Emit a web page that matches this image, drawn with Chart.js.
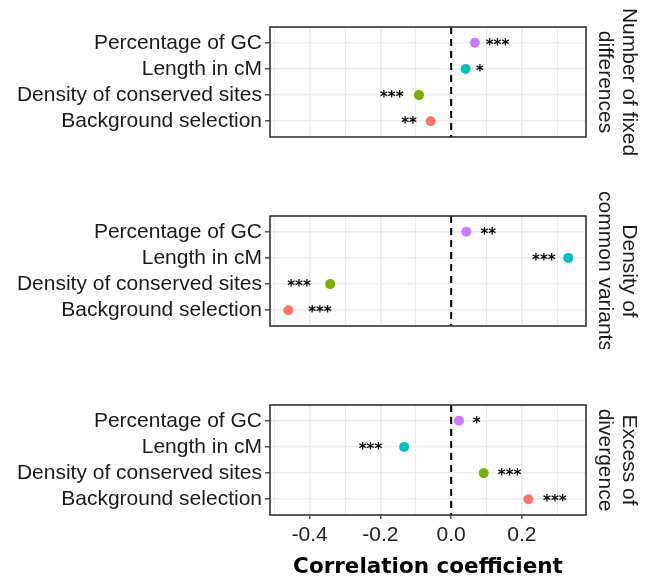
<!DOCTYPE html>
<html>
<head>
<meta charset="utf-8">
<script src="https://cdn.jsdelivr.net/npm/chart.js@4/dist/chart.umd.min.js"></script>
<style>
  body { margin: 0; background: #fff; }
  #wrap { position: relative; width: 645px; height: 584px; }
  canvas { position: absolute; left: 0; }
</style>
</head>
<body>
<div id="wrap">
  <canvas id="fixedChart" width="645" height="160" style="top:0px"></canvas>
  <canvas id="commonChart" width="645" height="160" style="top:189px"></canvas>
  <canvas id="excessChart" width="645" height="206" style="top:378px"></canvas>
</div>
<script>
const categories = [
    'Percentage of GC',
    'Length in cM',
    'Density of conserved sites',
    'Background selection'
];

const pointColors = ['#C77CFF', '#00BFC4', '#7CAE00', '#F8766D'];

const xTicks = [-0.5, -0.4, -0.3, -0.2, -0.1, 0, 0.1, 0.2, 0.3];

// number of fixed differences
const fixedValues = [0.067, 0.041, -0.091, -0.058];
const fixedStars = ['***', '*', '***', '**'];
const fixedStarX = [0.131, 0.081, -0.168, -0.119];

// density of common variants
const commonValues = [0.043, 0.331, -0.342, -0.460];
const commonStars = ['**', '***', '***', '***'];
const commonStarX = [0.105, 0.262, -0.430, -0.371];

// excess of divergence
const excessValues = [0.022, -0.133, 0.092, 0.218];
const excessStars = ['*', '***', '***', '***'];
const excessStarX = [0.072, -0.228, 0.165, 0.293];

const sans = '"Liberation Sans", Arial, sans-serif';

const isMajor = v => Math.round(v * 10) % 2 === 0;

function panelExtras(stars, starX, strip) {
    return {
        id: 'panelExtras',
        beforeDatasetsDraw(chart) {
            const {ctx, chartArea: a, scales: {x}} = chart;
            const x0 = x.getPixelForValue(0);
            ctx.save();
            ctx.setLineDash([7, 5]);
            ctx.lineWidth = 2;
            ctx.strokeStyle = '#000';
            ctx.beginPath();
            ctx.moveTo(x0, a.top);
            ctx.lineTo(x0, a.bottom);
            ctx.stroke();
            ctx.restore();
        },
        afterDatasetsDraw(chart) {
            const {ctx, chartArea: a, scales: {x, y}} = chart;
            ctx.save();
            ctx.strokeStyle = '#333';
            ctx.lineWidth = 1.6;
            ctx.strokeRect(a.left, a.top, a.right - a.left, a.bottom - a.top);

            // significance stars
            ctx.fillStyle = '#000';
            ctx.font = 'bold 15px "DejaVu Sans", sans-serif';
            ctx.textAlign = 'center';
            ctx.textBaseline = 'alphabetic';
            stars.forEach((s, i) => {
                ctx.fillText(s, x.getPixelForValue(starX[i]), y.getPixelForValue(i) + 7);
            });

            // facet strip on the right
            ctx.fillStyle = '#1a1a1a';
            ctx.font = '21px ' + sans;
            ctx.textBaseline = 'middle';
            ctx.translate(a.right + 31, (a.top + a.bottom) / 2);
            ctx.rotate(Math.PI / 2);
            ctx.fillText(strip[0], 0, -12);
            ctx.fillText(strip[1], 0, 12);
            ctx.restore();
        }
    };
}

function panelConfig(values, stars, starX, strip, bottom) {
    return {
        type: 'scatter',
        data: {
            datasets: [{
                data: values.map((v, i) => ({x: v, y: i})),
                pointBackgroundColor: pointColors,
                pointBorderWidth: 0,
                pointRadius: 5,
                pointHoverRadius: 5,
            }]
        },
        options: {
            responsive: false,
            animation: false,
            events: [],
            layout: {
                padding: {top: 27, right: 59, bottom: bottom ? 0 : 23, left: 0}
            },
            plugins: {
                legend: {display: false},
                tooltip: {enabled: false},
            },
            scales: {
                x: {
                    type: 'linear',
                    min: -0.512,
                    max: 0.381,
                    afterBuildTicks: s => { s.ticks = xTicks.map(v => ({value: v})); },
                    afterFit: s => { s.height = bottom ? 69 : 0; },
                    border: {display: false},
                    grid: {
                        color: '#EBEBEB',
                        lineWidth: c => (c.tick && isMajor(c.tick.value)) ? 1.6 : 0.9,
                        drawTicks: bottom,
                        tickLength: 4,
                        tickWidth: 1.3,
                        tickColor: c => (c.tick && isMajor(c.tick.value)) ? '#333' : 'rgba(0,0,0,0)',
                    },
                    ticks: {
                        display: bottom,
                        autoSkip: false,
                        maxRotation: 0,
                        padding: 4,
                        color: '#222',
                        font: {family: sans, size: 21},
                        callback: v => isMajor(v) ? v.toFixed(1) : '',
                    },
                    title: {
                        display: bottom,
                        text: 'Correlation coefficient',
                        color: '#000',
                        padding: {top: 0, bottom: 4},
                        font: {family: '"DejaVu Sans", sans-serif', size: 21.5, weight: 'bold'},
                    }
                },
                y: {
                    type: 'linear',
                    min: -0.6,
                    max: 3.6,
                    reverse: true,
                    afterBuildTicks: s => { s.ticks = categories.map((c, i) => ({value: i})); },
                    afterFit: s => { s.width = 270; },
                    border: {display: false},
                    grid: {
                        color: '#EBEBEB',
                        lineWidth: 1.6,
                        tickLength: 5,
                        tickWidth: 1.3,
                        tickColor: '#333',
                    },
                    ticks: {
                        autoSkip: false,
                        padding: 3,
                        color: '#1a1a1a',
                        font: {family: sans, size: 21},
                        callback: v => categories[v],
                    }
                }
            }
        },
        plugins: [panelExtras(stars, starX, strip)]
    };
}

const fixedChart = new Chart(
    document.getElementById('fixedChart'),
    panelConfig(fixedValues, fixedStars, fixedStarX, ['Number of fixed', 'differences'], false)
);

const commonChart = new Chart(
    document.getElementById('commonChart'),
    panelConfig(commonValues, commonStars, commonStarX, ['Density of', 'common variants'], false)
);

const excessChart = new Chart(
    document.getElementById('excessChart'),
    panelConfig(excessValues, excessStars, excessStarX, ['Excess of', 'divergence'], true)
);
</script>
</body>
</html>
